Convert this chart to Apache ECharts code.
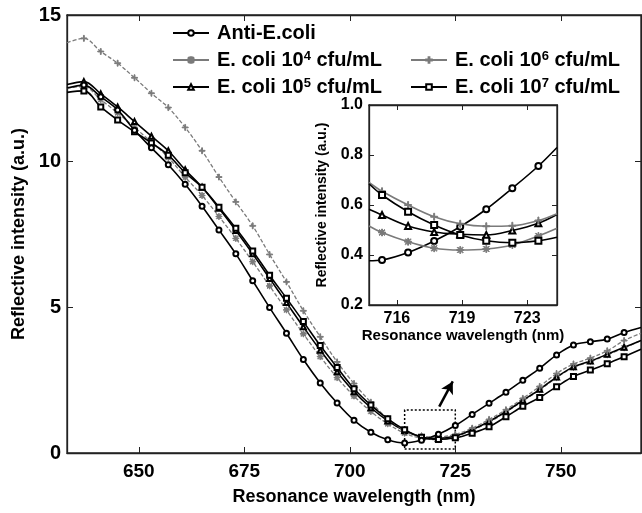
<!DOCTYPE html>
<html>
<head>
<meta charset="utf-8">
<script src="https://cdn.jsdelivr.net/npm/echarts@6/dist/echarts.min.js"></script>
<style>
  html, body { margin: 0; padding: 0; background: #fff; }
  #chart { width: 642px; height: 513px; }
</style>
</head>
<body>
<div id="chart"></div>
<script>
// main plot: wavelength (nm) vs reflective intensity (a.u.)
const mainWavelength = [633, 637, 641, 645, 649, 653, 657, 661, 665, 669, 673, 677, 681, 685, 689, 693, 697,
    701, 705, 709, 713, 717, 721, 725, 729, 733, 737, 741, 745, 749, 753, 757, 761, 765, 769];

const antiEcoli = [12.5, 12.6, 12.2, 11.75, 11.05, 10.45, 9.87, 9.2, 8.45, 7.64, 6.82, 5.9, 4.98, 4.1, 3.2, 2.4, 1.71,
    1.12, 0.71, 0.45, 0.34, 0.44, 0.64, 0.94, 1.32, 1.7, 2.08, 2.49, 2.9, 3.36, 3.7, 3.81, 3.9, 4.13, 4.3];
const ecoli1e4 = [12.5, 12.55, 12.1, 11.65, 11.15, 10.65, 10.12, 9.45, 8.82, 8.1, 7.35, 6.55, 5.72, 4.9, 4.08, 3.3, 2.58,
    1.95, 1.42, 1.0, 0.68, 0.5, 0.46, 0.55, 0.78, 1.05, 1.4, 1.78, 2.16, 2.58, 2.93, 3.13, 3.36, 3.6, 3.85];
const ecoli1e5 = [12.62, 12.72, 12.3, 11.85, 11.35, 10.85, 10.35, 9.7, 9.1, 8.38, 7.62, 6.82, 5.98, 5.15, 4.32, 3.52, 2.78,
    2.1, 1.55, 1.1, 0.76, 0.55, 0.5, 0.58, 0.8, 1.08, 1.42, 1.8, 2.18, 2.6, 2.95, 3.15, 3.38, 3.62, 3.85];
const ecoli1e6 = [14.05, 14.2, 13.75, 13.35, 12.85, 12.32, 11.83, 11.15, 10.35, 9.45, 8.6, 7.78, 6.8, 5.86, 4.87, 3.98, 3.12,
    2.38, 1.74, 1.18, 0.78, 0.58, 0.55, 0.64, 0.85, 1.15, 1.48, 1.87, 2.28, 2.72, 3.05, 3.25, 3.5, 3.85, 4.1];
const ecoli1e7 = [12.35, 12.4, 11.85, 11.4, 11.0, 10.62, 10.2, 9.6, 9.1, 8.42, 7.7, 6.92, 6.09, 5.3, 4.5, 3.68, 2.93,
    2.2, 1.64, 1.17, 0.8, 0.54, 0.46, 0.52, 0.68, 0.9, 1.24, 1.6, 1.9, 2.27, 2.62, 2.84, 3.06, 3.3, 3.55];

const mainXTicks = [650, 675, 700, 725, 750];

// dotted zoom box and arrow
const zoomBoxFrom = [713, 0.14];
const zoomBoxTo = [725, 1.47];
const arrowFrom = [721.2, 1.59];
const arrowTo = [724.4, 2.45];

// inset: close-up of the dip
const insetWavelength = [714.5, 715.2, 716.6, 718.0, 719.4, 720.8, 722.2, 723.6, 724.6];
const insetAnti = [0.377, 0.38, 0.41, 0.456, 0.513, 0.583, 0.667, 0.756, 0.83];
const inset1e4 = [0.516, 0.49, 0.453, 0.427, 0.42, 0.424, 0.44, 0.476, 0.507];
const inset1e5 = [0.583, 0.56, 0.516, 0.492, 0.483, 0.48, 0.498, 0.527, 0.562];
const inset1e6 = [0.69, 0.655, 0.6, 0.553, 0.525, 0.515, 0.517, 0.538, 0.565];
const inset1e7 = [0.685, 0.64, 0.573, 0.52, 0.48, 0.457, 0.449, 0.457, 0.471];

const insetXTicks = [716, 719.5, 723];
const insetXTickLabels = ['716', '719', '723'];

const seriesNames = ['Anti-E.coli', 'E. coli 10⁴ cfu/mL', 'E. coli 10⁵ cfu/mL', 'E. coli 10⁶ cfu/mL', 'E. coli 10⁷ cfu/mL'];

const FONT = 'Liberation Sans';
const GRAY = '#7a7a7a';
const AXIS = '#222';
const plusPath = 'path://M4.3,0H5.7V4.3H10V5.7H5.7V10H4.3V5.7H0V4.3H4.3Z';
const starPath = 'path://M4.4,0H5.6V4.4H10V5.6H5.6V10H4.4V5.6H0V4.4H4.4Z M1.5,0.7L9.3,8.5L8.5,9.3L0.7,1.5Z M0.7,8.5L8.5,0.7L9.3,1.5L1.5,9.3Z';

const styles = [
    { symbol: 'emptyCircle', color: '#000', type: 'solid', width: 1.6 },
    { symbol: starPath, color: GRAY, type: [4, 2], width: 1.3 },
    { symbol: 'emptyTriangle', color: '#000', type: 'solid', width: 1.6 },
    { symbol: plusPath, color: GRAY, type: [4, 2], width: 1.3 },
    { symbol: 'emptyRect', color: '#000', type: 'solid', width: 1.6 }
];

function points(xs, ys) {
    // no marker on the points that sit on the frame
    return ys.map((y, i) => (i === 0 || i === ys.length - 1)
        ? { value: [xs[i], y], symbol: 'none' }
        : [xs[i], y]);
}

const mainData = [antiEcoli, ecoli1e4, ecoli1e5, ecoli1e6, ecoli1e7];
const insetData = [insetAnti, inset1e4, inset1e5, inset1e6, inset1e7];

const series = [];
mainData.forEach((ys, k) => {
    const st = styles[k];
    const s = {
        name: seriesNames[k],
        type: 'line',
        xAxisIndex: 0, yAxisIndex: 0,
        data: points(mainWavelength, ys),
        smooth: 0.35,
        symbol: st.symbol,
        symbolSize: st.symbol.startsWith('path') ? 6 : 5,
        lineStyle: { color: st.color, width: st.width, type: st.type },
        itemStyle: { color: st.color, borderColor: st.color, borderWidth: 1 },
        z: k === 0 ? 5 : 3
    };
    if (k === 0) {
        s.markArea = {
            silent: true,
            itemStyle: { color: 'rgba(0,0,0,0)', borderColor: '#000', borderWidth: 1.5, borderType: [2, 2] },
            data: [[{ coord: zoomBoxFrom }, { coord: zoomBoxTo }]]
        };
        s.markLine = {
            silent: true,
            symbol: ['none', 'arrow'],
            symbolSize: [10, 12],
            label: { show: false },
            lineStyle: { color: '#000', width: 2.5, type: 'solid' },
            data: [[{ coord: arrowFrom }, { coord: arrowTo }]]
        };
    }
    series.push(s);
});
insetData.forEach((ys, k) => {
    const st = styles[k];
    series.push({
        name: seriesNames[k],
        type: 'line',
        xAxisIndex: 2, yAxisIndex: 2,
        data: points(insetWavelength, ys),
        smooth: 0.35,
        symbol: st.symbol,
        symbolSize: st.symbol.startsWith('path') ? 7 : 6,
        lineStyle: { color: st.color, width: 1.6, type: 'solid' },
        itemStyle: { color: st.color, borderColor: st.color, borderWidth: 1 },
        z: 3
    });
});

const boldText = (size) => ({ color: '#000', fontFamily: FONT, fontWeight: 'bold', fontSize: size });

function legendText(name) {
    const m = name.match(/^(.*10)([⁴⁵⁶⁷])(.*)$/);
    if (!m) return '{a|' + name + '}';
    const sup = { '⁴': '4', '⁵': '5', '⁶': '6', '⁷': '7' }[m[2]];
    return '{a|' + m[1] + '}{s|' + sup + '}{a|' + m[3] + '}';
}

const legendBase = {
    orient: 'vertical',
    selectedMode: false,
    itemWidth: 36,
    itemHeight: 7,
    itemGap: 7,
    lineStyle: { type: 'solid', width: 2 },
    formatter: legendText,
    textStyle: {
        padding: [0, 0, 0, 3],
        rich: {
            a: { fontFamily: FONT, fontWeight: 'bold', fontSize: 20, color: '#000', lineHeight: 20 },
            s: { fontFamily: FONT, fontWeight: 'bold', fontSize: 13, color: '#000', lineHeight: 20, verticalAlign: 'top' }
        }
    }
};

// axes on the far sides only carry inward ticks; the frame comes from the grid border
function mirrorAxis(gridIndex, position, tickLen, extra) {
    return Object.assign({
        type: 'value', gridIndex: gridIndex, position: position,
        axisLine: { show: true, onZero: false, lineStyle: { color: AXIS, width: 1.3 } },
        axisTick: { show: true, inside: true, length: tickLen, lineStyle: { color: AXIS } },
        axisLabel: { show: false },
        splitLine: { show: false }
    }, extra);
}

const chart = echarts.init(document.getElementById('chart'), null, { renderer: 'canvas' });

chart.setOption({
    backgroundColor: '#fff',
    animation: false,
    legend: [
        Object.assign({}, legendBase, { left: 167, top: 18, data: seriesNames.slice(0, 3) }),
        Object.assign({}, legendBase, { left: 405, top: 45, data: seriesNames.slice(3) })
    ],
    grid: [
        { left: 67, top: 15, right: 1, bottom: 60, outerBoundsMode: 'none', show: true, borderColor: AXIS, borderWidth: 1.3 },
        { left: 369, top: 105, width: 188, height: 200, outerBoundsMode: 'none', show: true, borderColor: AXIS, borderWidth: 1.3 }
    ],
    xAxis: [
        {
            type: 'value', gridIndex: 0, min: 633, max: 769,
            name: 'Resonance wavelength (nm)', nameLocation: 'middle', nameGap: 35,
            nameTextStyle: boldText(18),
            axisLine: { show: true, onZero: false, lineStyle: { color: AXIS, width: 1.3 } },
            axisTick: { inside: true, length: 6, customValues: mainXTicks, lineStyle: { color: AXIS } },
            axisLabel: Object.assign(boldText(19), { margin: 9, customValues: mainXTicks }),
            splitLine: { show: false }
        },
        mirrorAxis(0, 'top', 6, {
            min: 633, max: 769,
            axisTick: { show: true, inside: true, length: 6, customValues: mainXTicks, lineStyle: { color: AXIS } }
        }),
        {
            type: 'value', gridIndex: 1, min: 714.5, max: 724.6,
            name: 'Resonance wavelength (nm)', nameLocation: 'middle', nameGap: 22,
            nameTextStyle: boldText(15),
            axisLine: { show: true, onZero: false, lineStyle: { color: AXIS, width: 1.3 } },
            axisTick: { inside: true, length: 5, customValues: insetXTicks, lineStyle: { color: AXIS } },
            axisLabel: Object.assign(boldText(16), {
                margin: 6, customValues: insetXTicks,
                formatter: (v) => insetXTickLabels[insetXTicks.indexOf(v)]
            }),
            splitLine: { show: false }
        },
        mirrorAxis(1, 'top', 5, {
            min: 714.5, max: 724.6,
            axisTick: { show: true, inside: true, length: 5, customValues: insetXTicks, lineStyle: { color: AXIS } }
        })
    ],
    yAxis: [
        {
            type: 'value', gridIndex: 0, min: 0, max: 15, interval: 5,
            name: 'Reflective intensity (a.u.)', nameLocation: 'middle', nameGap: 38,
            nameTextStyle: boldText(18),
            axisLine: { show: true, onZero: false, lineStyle: { color: AXIS, width: 1.3 } },
            axisTick: { inside: true, length: 6, lineStyle: { color: AXIS } },
            axisLabel: Object.assign(boldText(20), { margin: 6 }),
            splitLine: { show: false }
        },
        mirrorAxis(0, 'right', 6, { min: 0, max: 15, interval: 5 }),
        {
            type: 'value', gridIndex: 1, min: 0.2, max: 1.0, interval: 0.2,
            name: 'Reflective intensity (a.u.)', nameLocation: 'middle', nameGap: 40,
            nameTextStyle: boldText(14),
            axisLine: { show: true, onZero: false, lineStyle: { color: AXIS, width: 1.3 } },
            axisTick: { inside: true, length: 5, lineStyle: { color: AXIS } },
            axisLabel: Object.assign(boldText(16), { margin: 6, formatter: (v) => v.toFixed(1) }),
            splitLine: { show: false }
        },
        mirrorAxis(1, 'right', 5, { min: 0.2, max: 1.0, interval: 0.2 })
    ],
    series: series
});
</script>
</body>
</html>
